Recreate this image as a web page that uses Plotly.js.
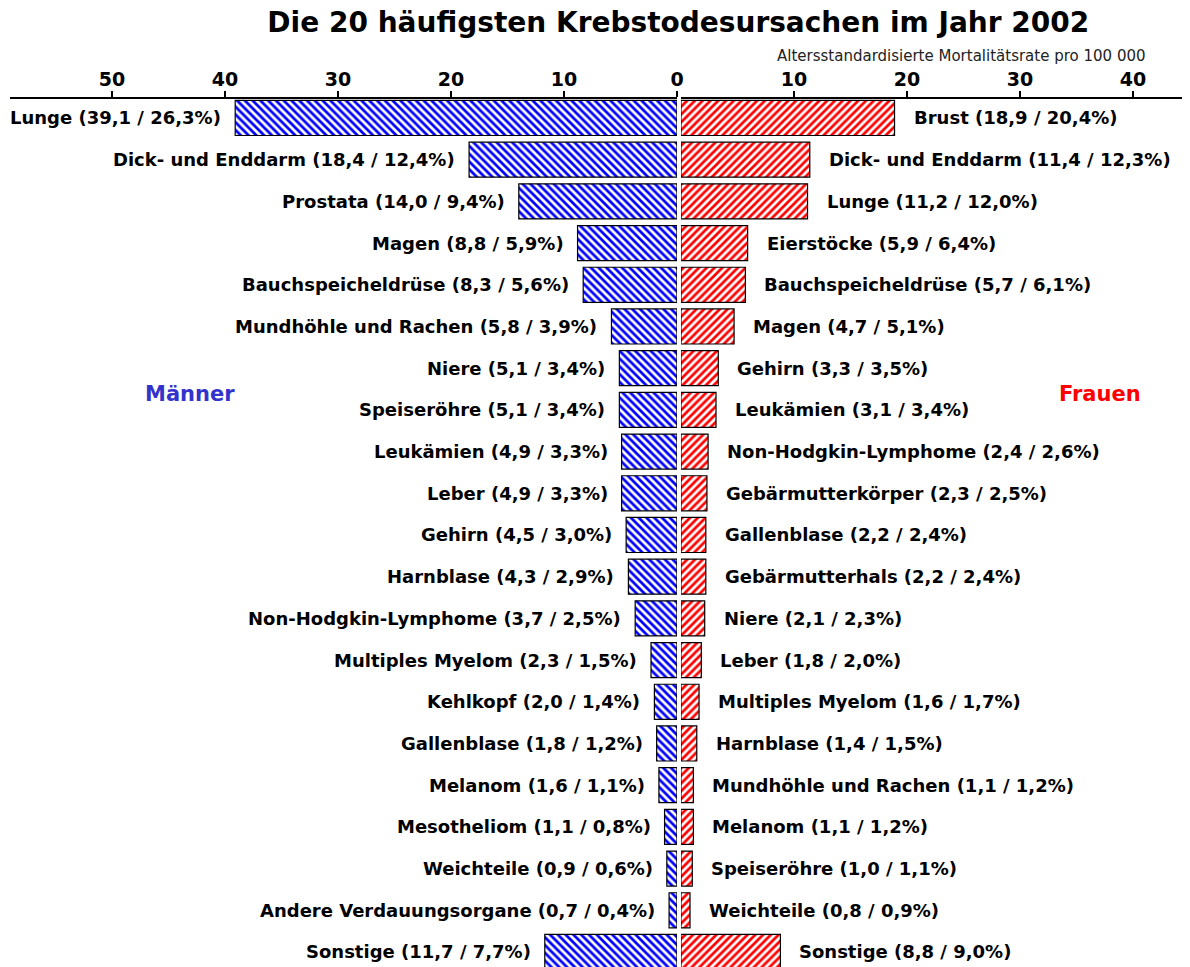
<!DOCTYPE html>
<html>
<head>
<meta charset="utf-8">
<script src="https://cdn.plot.ly/plotly-3.0.1.min.js"></script>
<style>html,body{margin:0;padding:0;background:#fff;}</style>
</head>
<body>
<div id="chart" style="width:1190px;height:967px;"></div>
<script>
// Männer
const menNames = ["Lunge","Dick- und Enddarm","Prostata","Magen","Bauchspeicheldrüse","Mundhöhle und Rachen","Niere","Speiseröhre","Leukämien","Leber","Gehirn","Harnblase","Non-Hodgkin-Lymphome","Multiples Myelom","Kehlkopf","Gallenblase","Melanom","Mesotheliom","Weichteile","Andere Verdauungsorgane","Sonstige"];
const menRates = [39.1,18.4,14.0,8.8,8.3,5.8,5.1,5.1,4.9,4.9,4.5,4.3,3.7,2.3,2.0,1.8,1.6,1.1,0.9,0.7,11.7];
const menPct   = [26.3,12.4,9.4,5.9,5.6,3.9,3.4,3.4,3.3,3.3,3.0,2.9,2.5,1.5,1.4,1.2,1.1,0.8,0.6,0.4,7.7];
// Frauen
const womenNames = ["Brust","Dick- und Enddarm","Lunge","Eierstöcke","Bauchspeicheldrüse","Magen","Gehirn","Leukämien","Non-Hodgkin-Lymphome","Gebärmutterkörper","Gallenblase","Gebärmutterhals","Niere","Leber","Multiples Myelom","Harnblase","Mundhöhle und Rachen","Melanom","Speiseröhre","Weichteile","Sonstige"];
const womenRates = [18.9,11.4,11.2,5.9,5.7,4.7,3.3,3.1,2.4,2.3,2.2,2.2,2.1,1.8,1.6,1.4,1.1,1.1,1.0,0.8,8.8];
const womenPct   = [20.4,12.3,12.0,6.4,6.1,5.1,3.5,3.4,2.6,2.5,2.4,2.4,2.3,2.0,1.7,1.5,1.2,1.2,1.1,0.9,9.0];
const leftTicks = [50,40,30,20,10,0];
const rightTicks = [10,20,30,40];

const fmt = v => v.toFixed(1).replace('.', ',');
const lbl = (n, r, p) => `${n} (${fmt(r)} / ${fmt(p)}%)`;

const BOLD = "DejaVu Sans";
const traces = [
  {
    type: 'bar', orientation: 'h', x: menRates, y: menNames, xaxis: 'x', yaxis: 'y',
    width: 0.84, hoverinfo: 'skip',
    marker: {color: '#0000ff', line: {color: '#000', width: 1.2},
      pattern: {shape: '\\', fgcolor: '#0000ff', bgcolor: '#ffffff', size: 5.5, solidity: 0.5}}
  },
  {
    type: 'bar', orientation: 'h', x: womenRates, y: womenNames, xaxis: 'x2', yaxis: 'y2',
    width: 0.84, hoverinfo: 'skip',
    marker: {color: '#ff0000', line: {color: '#000', width: 1.2},
      pattern: {shape: '/', fgcolor: '#ff0000', bgcolor: '#ffffff', size: 5.5, solidity: 0.5}}
  }
];

const annFont = {family: BOLD, size: 18, color: '#000', weight: 'bold'};
const annotations = [];
menNames.forEach((n, i) => annotations.push({
  xref: 'x', yref: 'y', x: menRates[i], y: n, text: lbl(n, menRates[i], menPct[i]),
  showarrow: false, xanchor: 'right', yanchor: 'middle', xshift: -12, font: annFont
}));
womenNames.forEach((n, i) => annotations.push({
  xref: 'x2', yref: 'y2', x: womenRates[i], y: n, text: lbl(n, womenRates[i], womenPct[i]),
  showarrow: false, xanchor: 'left', yanchor: 'middle', xshift: 17, font: annFont
}));
annotations.push({xref: 'paper', yref: 'paper', x: 0.971, y: 1.0495, xanchor: 'right', yanchor: 'middle',
  text: 'Altersstandardisierte Mortalitätsrate pro 100 000', showarrow: false,
  font: {family: 'DejaVu Sans', size: 15, color: '#222'}});
annotations.push({xref: 'paper', yref: 'paper', x: 0.1536, y: 0.6605, xanchor: 'center', yanchor: 'middle',
  text: 'Männer', showarrow: false, font: {family: BOLD, size: 21, color: '#3333cc', weight: 'bold'}});
annotations.push({xref: 'paper', yref: 'paper', x: 0.930, y: 0.6605, xanchor: 'center', yanchor: 'middle',
  text: 'Frauen', showarrow: false, font: {family: BOLD, size: 21, color: '#ff0000', weight: 'bold'}});

const axCommon = {
  side: 'top', showgrid: false, zeroline: false, showline: true, linecolor: '#000', linewidth: 2,
  ticks: 'outside', ticklen: 6, tickwidth: 1.5, tickcolor: '#000', tickmode: 'array',
  ticklabelstandoff: -3,
  tickfont: {family: BOLD, size: 19, color: '#000', weight: 'bold'}, fixedrange: true
};
const layout = {
  width: 1190, height: 967,
  margin: {l: 10, r: 8, t: 99, b: 0, pad: 0},
  paper_bgcolor: '#fff', plot_bgcolor: '#fff',
  showlegend: false,
  title: {text: 'Die 20 häufigsten Krebstodesursachen im Jahr 2002', x: 0.57, xanchor: 'center', xref: 'container',
    y: 0.977, yanchor: 'middle', yref: 'container',
    font: {family: BOLD, size: 28, color: '#000', weight: 'bold'}},
  xaxis: Object.assign({}, axCommon, {domain: [0, 0.5691], range: [59.03, 0], tickvals: leftTicks, anchor: 'y'}),
  xaxis2: Object.assign({}, axCommon, {domain: [0.5725, 1], range: [0, 44.34], tickvals: rightTicks, anchor: 'y2'}),
  yaxis: {domain: [0, 1], showticklabels: false, ticks: '', showgrid: false, zeroline: false, showline: false,
    type: 'category', range: [20.36, -0.455], anchor: 'x', fixedrange: true},
  yaxis2: {domain: [0, 1], showticklabels: false, ticks: '', showgrid: false, zeroline: false, showline: false,
    type: 'category', range: [20.36, -0.455], anchor: 'x2', fixedrange: true},
  annotations: annotations
};
Plotly.newPlot('chart', traces, layout, {displayModeBar: false, staticPlot: true});
</script>
</body>
</html>
